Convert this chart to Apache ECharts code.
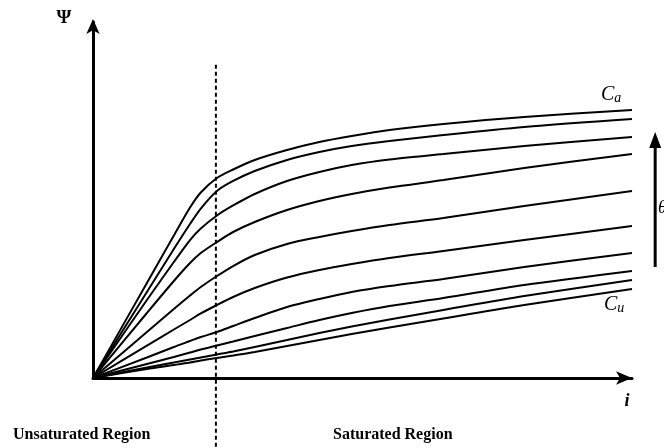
<!DOCTYPE html>
<html><head><meta charset="utf-8">
<script src="https://cdn.jsdelivr.net/npm/echarts@6/dist/echarts.min.js"></script>
<style>html,body{margin:0;padding:0;background:#fff}#c{width:664px;height:448px}</style>
</head><body><div id="c"></div>
<script>
// current samples (arbitrary units)
const currentI = [0, 1, 1.5, 1.8, 2, 2.3, 2.6, 3, 3.6, 4.2, 4.8, 5.5, 6.5, 8, 10];
// flux-linkage curves, from aligned (C_a) down to unaligned (C_u)
const psi1  = [0, 2.669, 4.000, 4.789, 5.211, 5.618, 5.857, 6.124, 6.404, 6.629, 6.798, 6.966, 7.135, 7.331, 7.528];
const psi2  = [0, 2.416, 3.624, 4.326, 4.761, 5.253, 5.534, 5.815, 6.124, 6.348, 6.517, 6.657, 6.826, 7.051, 7.275];
const psi3  = [0, 2.191, 3.258, 3.876, 4.199, 4.565, 4.846, 5.169, 5.534, 5.787, 5.983, 6.138, 6.292, 6.517, 6.770];
const psi4  = [0, 1.826, 2.725, 3.230, 3.511, 3.820, 4.101, 4.382, 4.719, 4.972, 5.169, 5.351, 5.562, 5.899, 6.292];
const psi5  = [0, 1.292, 1.938, 2.317, 2.556, 2.865, 3.146, 3.455, 3.764, 3.961, 4.129, 4.298, 4.494, 4.831, 5.253];
const psi6  = [0, 0.907, 1.362, 1.629, 1.812, 2.051, 2.275, 2.528, 2.823, 3.034, 3.202, 3.371, 3.567, 3.876, 4.270];
const psi7  = [0, 0.576, 0.871, 1.039, 1.152, 1.292, 1.461, 1.685, 1.994, 2.219, 2.416, 2.584, 2.781, 3.118, 3.511];
const psi8  = [0, 0.393, 0.590, 0.716, 0.801, 0.913, 1.025, 1.180, 1.404, 1.629, 1.826, 2.022, 2.247, 2.612, 3.006];
const psi9  = [0, 0.295, 0.435, 0.520, 0.576, 0.660, 0.744, 0.871, 1.067, 1.264, 1.447, 1.643, 1.910, 2.303, 2.753];
const psi10 = [0, 0.253, 0.365, 0.435, 0.492, 0.562, 0.632, 0.730, 0.899, 1.067, 1.236, 1.419, 1.671, 2.051, 2.500];
const curves = [psi1, psi2, psi3, psi4, psi5, psi6, psi7, psi8, psi9, psi10];
// boundary between unsaturated and saturated regions
const boundaryI = 2.28;
const boundaryPsi = [8.8, -2];
// theta arrow (increasing rotor position)
const thetaArrowI = 10.43;
const thetaArrowPsi = [3.12, 6.91];

const chart = echarts.init(document.getElementById('c'), null, {renderer: 'canvas'});
const serif = '"Liberation Serif","DejaVu Serif",serif';

const series = curves.map(c => ({
  type: 'line', data: currentI.map((x, k) => [x, c[k]]),
  symbol: 'none', smooth: 0.3, lineStyle: {color: '#000', width: 2}, silent: true
}));
series.push({
  type: 'line', data: boundaryPsi.map(y => [boundaryI, y]), symbol: 'none', clip: false,
  lineStyle: {color: '#000', width: 2, type: [4, 3]}, silent: true
});

const axisCommon = {
  type: 'value', min: 0, max: 10,
  axisTick: {show: false}, axisLabel: {show: false}, splitLine: {show: false}
};

chart.setOption({
  animation: false,
  grid: {left: 93, right: 32, top: 22, bottom: 70, containLabel: false},
  xAxis: Object.assign({}, axisCommon, {
    axisLine: {show: true, symbol: ['none', 'arrow'], symbolSize: [10, 16], symbolOffset: [0, 0],
      lineStyle: {color: '#000', width: 3}}
  }),
  yAxis: Object.assign({}, axisCommon, {
    axisLine: {show: true, symbol: ['none', 'arrow'], symbolSize: [10, 15], symbolOffset: [0, 3],
      lineStyle: {color: '#000', width: 3}}
  }),
  series: series
});

const pBot = chart.convertToPixel({gridIndex: 0}, [thetaArrowI, thetaArrowPsi[0]]);
const pTip = chart.convertToPixel({gridIndex: 0}, [thetaArrowI, thetaArrowPsi[1]]);
const sub = {font: 'italic 14px ' + serif, fill: '#000', padding: [7, 0, 0, 0]};
chart.setOption({
  graphic: [
    {type: 'line', shape: {x1: pBot[0], y1: pBot[1], x2: pTip[0], y2: pTip[1] + 12}, style: {stroke: '#000', lineWidth: 3}, silent: true},
    {type: 'polygon', shape: {points: [[pTip[0] - 6, pTip[1] + 16], [pTip[0] + 6, pTip[1] + 16], [pTip[0], pTip[1]]]}, style: {fill: '#000'}, silent: true},
    {type: 'text', x: 64, y: 18, style: {text: 'Ψ', font: 'bold 19px ' + serif, fill: '#000', align: 'center', verticalAlign: 'middle'}},
    {type: 'text', x: 627, y: 401, style: {text: 'i', font: 'italic bold 18px ' + serif, fill: '#000', align: 'center', verticalAlign: 'middle'}},
    {type: 'text', x: 601, y: 95, style: {text: '{c|C}{s|a}', fill: '#000', align: 'left', verticalAlign: 'middle',
      rich: {c: {font: 'italic 20px ' + serif, fill: '#000'}, s: sub}}},
    {type: 'text', x: 604, y: 305, style: {text: '{c|C}{s|u}', fill: '#000', align: 'left', verticalAlign: 'middle',
      rich: {c: {font: 'italic 20px ' + serif, fill: '#000'}, s: sub}}},
    {type: 'text', x: 658, y: 208, style: {text: 'θ', font: 'italic 18px ' + serif, fill: '#000', align: 'left', verticalAlign: 'middle'}},
    {type: 'text', x: 13, y: 435, style: {text: 'Unsaturated Region', font: 'bold 16px ' + serif, fill: '#000', align: 'left', verticalAlign: 'middle'}},
    {type: 'text', x: 333, y: 435, style: {text: 'Saturated Region', font: 'bold 16px ' + serif, fill: '#000', align: 'left', verticalAlign: 'middle'}}
  ]
});
</script>
</body></html>
